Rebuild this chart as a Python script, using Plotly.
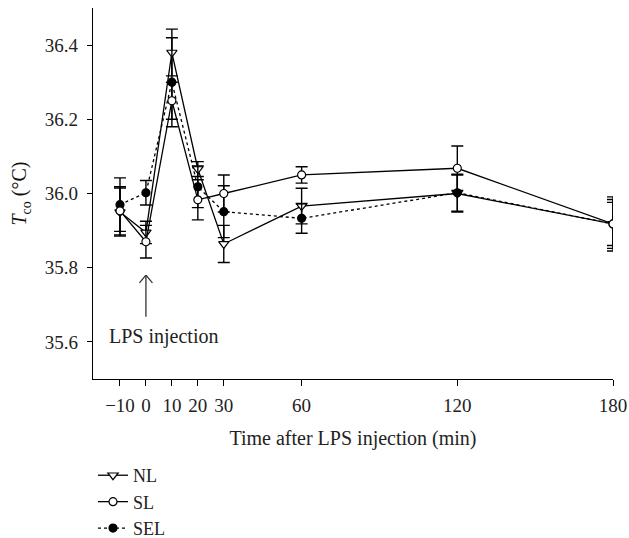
import plotly.graph_objects as go

time = [-10, 0, 10, 20, 30, 60, 120, 180]

nl_mean = [35.95, 35.895, 36.38, 36.066, 35.864, 35.966, 36.0, 35.918]
nl_err = [0.065, 0.03, 0.063, 0.02, 0.05, 0.048, 0.05, 0.066]

sl_mean = [35.953, 35.870, 36.25, 35.983, 36.0, 36.05, 36.068, 35.918]
sl_err = [0.065, 0.044, 0.05, 0.054, 0.05, 0.022, 0.06, 0.058]

sel_mean = [35.97, 36.002, 36.30, 36.018, 35.951, 35.933, 36.002, 35.918]
sel_err = [0.072, 0.033, 0.12, 0.056, 0.07, 0.04, 0.05, 0.073]

xticks = [-10, 0, 10, 20, 30, 60, 120, 180]
yticks = [35.6, 35.8, 36.0, 36.2, 36.4]

FONT = "Liberation Serif"
TXT = "#222"

fig = go.Figure()

def add(name, y, e, symbol, fill, dash, rank):
    fig.add_trace(go.Scatter(
        x=time, y=y, name=name, mode="lines+markers",
        line=dict(color="black", width=1.3, dash=dash),
        marker=dict(symbol=symbol, size=9 if "triangle" in symbol else 8,
                    color=fill, line=dict(color="black", width=1.2)),
        error_y=dict(type="data", array=e, visible=True, color="black",
                     thickness=1.4, width=6),
        legendrank=rank,
    ))

add("NL", nl_mean, nl_err, "triangle-down", "white", "solid", 1)
add("SEL", sel_mean, sel_err, "circle", "black", "dot", 3)
add("SL", sl_mean, sl_err, "circle", "white", "solid", 2)

# LPS injection arrow (at time 0)
arrow_x = 0
arrow_tip = 35.78
arrow_base = 35.668
fig.add_shape(type="line", x0=arrow_x, x1=arrow_x, y0=arrow_base, y1=arrow_tip,
              line=dict(color="#333", width=1.3))
fig.add_shape(type="line", x0=arrow_x - 2.5, x1=arrow_x, y0=arrow_tip - 0.021, y1=arrow_tip,
              line=dict(color="#333", width=1.3))
fig.add_shape(type="line", x0=arrow_x + 2.5, x1=arrow_x, y0=arrow_tip - 0.021, y1=arrow_tip,
              line=dict(color="#333", width=1.3))
fig.add_annotation(x=6.7, y=35.614, text="LPS injection", showarrow=False,
                   font=dict(family=FONT, size=20, color=TXT))

fig.update_layout(
    width=629, height=538,
    margin=dict(l=93, r=16, t=8, b=159),
    paper_bgcolor="white", plot_bgcolor="white",
    font=dict(family=FONT, size=19, color=TXT),
    showlegend=True,
    legend=dict(x=0.0, y=0.1505, xanchor="left", yanchor="top", yref="container",
                font=dict(family=FONT, size=18, color=TXT),
                bgcolor="rgba(0,0,0,0)", tracegroupgap=0),
    xaxis=dict(range=[-20.4, 180], tickvals=xticks,
               ticktext=[f"{v}".replace("-", "\u2212") for v in xticks],
               showline=True, linecolor="black", linewidth=1.2,
               ticks="outside", ticklen=6, tickcolor="black", tickwidth=1.2,
               showgrid=False, zeroline=False, ticklabelstandoff=3,
               automargin=False,
               tickfont=dict(family=FONT, size=19, color=TXT),
               title=dict(text="Time after LPS injection (min)", standoff=16,
                          font=dict(family=FONT, size=20, color=TXT))),
    yaxis=dict(range=[35.5, 36.5], tickvals=yticks, tickformat=".1f",
               showline=True, linecolor="black", linewidth=1.2,
               ticks="outside", ticklen=5, tickcolor="black", tickwidth=1.2,
               showgrid=False, zeroline=False, automargin=False,
               ticklabelstandoff=5,
               tickfont=dict(family=FONT, size=19, color=TXT),
               title=dict(text="<i>T</i><sub>co</sub> (°C)", standoff=12,
                          font=dict(family=FONT, size=20, color="#111"))),
)

fig.write_html(
    "out.html",
    config={"displayModeBar": False},
    post_script="document.body.style.margin='0';document.body.style.overflow='hidden';",
)
